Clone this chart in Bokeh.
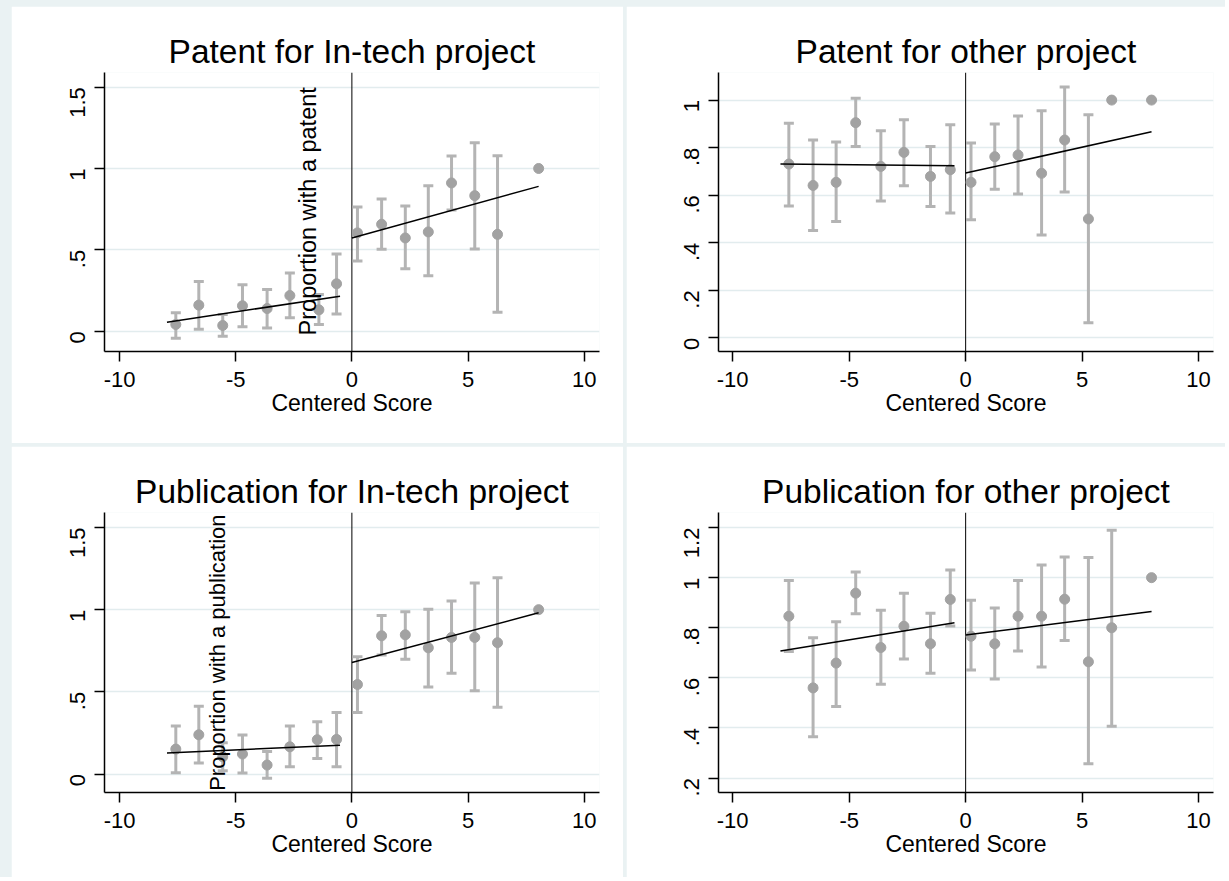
from math import pi
from bokeh.plotting import figure
from bokeh.models import (ColumnDataSource, Whisker, TeeHead, Span, Label,
                          FixedTicker, Spacer, Range1d)
from bokeh.layouts import row, column
from bokeh.embed import file_html
from bokeh.resources import INLINE

# ---------------- data ----------------
x_ticks = [-10, -5, 0, 5, 10]
x_tick_labels = {-10: "-10", -5: "-5", 0: "0", 5: "5", 10: "10"}
x_title = "Centered Score"

# Patent for In-tech project
tl_title = "Patent for In-tech project"
tl_x = [-7.58, -6.59, -5.56, -4.71, -3.65, -2.67, -1.42, -0.66, 0.24, 1.28, 2.30, 3.29, 4.29, 5.29, 6.27, 8.04]
tl_y = [0.041, 0.160, 0.035, 0.156, 0.139, 0.219, 0.131, 0.291, 0.604, 0.657, 0.573, 0.610, 0.911, 0.833, 0.595, 1.0]
tl_hi = [0.113, 0.305, 0.102, 0.286, 0.256, 0.358, 0.225, 0.475, 0.763, 0.812, 0.769, 0.894, 1.076, 1.158, 1.078, None]
tl_lo = [-0.043, 0.012, -0.031, 0.027, 0.020, 0.082, 0.041, 0.106, 0.432, 0.504, 0.383, 0.340, 0.745, 0.505, 0.117, None]
tl_fitL_x = [-7.96, -0.51]
tl_fitL_y = [0.055, 0.215]
tl_fitR_x = [0.0, 8.04]
tl_fitR_y = [0.573, 0.890]
tl_yticks = [0, 0.5, 1, 1.5]
tl_ylabels = {0: "0", 0.5: ".5", 1: "1", 1.5: "1.5"}
tl_ytitle = "Proportion with a patent"

# Patent for other project
tr_title = "Patent for other project"
tr_x = [-7.59, -6.55, -5.56, -4.72, -3.64, -2.65, -1.51, -0.66, 0.23, 1.25, 2.25, 3.26, 4.25, 5.27, 6.27, 7.98]
tr_y = [0.731, 0.641, 0.654, 0.905, 0.721, 0.780, 0.679, 0.707, 0.654, 0.762, 0.769, 0.692, 0.832, 0.500, 1.0, 1.0]
tr_hi = [0.903, 0.832, 0.824, 1.008, 0.871, 0.917, 0.805, 0.896, 0.819, 0.899, 0.933, 0.955, 1.055, 0.938, None, None]
tr_lo = [0.555, 0.451, 0.489, 0.805, 0.576, 0.640, 0.552, 0.525, 0.497, 0.625, 0.605, 0.433, 0.613, 0.063, None, None]
tr_fitL_x = [-7.95, -0.48]
tr_fitL_y = [0.731, 0.724]
tr_fitR_x = [0.0, 7.98]
tr_fitR_y = [0.693, 0.867]
tr_yticks = [0, 0.2, 0.4, 0.6, 0.8, 1]
tr_ylabels = {0: "0", 0.2: ".2", 0.4: ".4", 0.6: ".6", 0.8: ".8", 1: "1"}

# Publication for In-tech project
bl_title = "Publication for In-tech project"
bl_x = [-7.58, -6.59, -5.56, -4.71, -3.65, -2.67, -1.49, -0.66, 0.24, 1.28, 2.30, 3.29, 4.29, 5.29, 6.27, 8.04]
bl_y = [0.152, 0.239, 0.105, 0.122, 0.055, 0.166, 0.209, 0.211, 0.545, 0.841, 0.847, 0.768, 0.831, 0.831, 0.799, 1.0]
bl_hi = [0.292, 0.412, 0.190, 0.237, 0.138, 0.292, 0.318, 0.375, 0.714, 0.965, 0.987, 1.003, 1.052, 1.162, 1.194, None]
bl_lo = [0.008, 0.067, 0.020, 0.006, -0.026, 0.045, 0.095, 0.045, 0.375, 0.724, 0.699, 0.529, 0.614, 0.507, 0.407, None]
bl_fitL_x = [-7.96, -0.51]
bl_fitL_y = [0.128, 0.176]
bl_fitR_x = [0.0, 8.04]
bl_fitR_y = [0.679, 0.981]
bl_yticks = [0, 0.5, 1, 1.5]
bl_ylabels = {0: "0", 0.5: ".5", 1: "1", 1.5: "1.5"}
bl_ytitle = "Proportion with a publication"

# Publication for other project
br_title = "Publication for other project"
br_x = [-7.59, -6.55, -5.56, -4.72, -3.64, -2.65, -1.51, -0.66, 0.23, 1.25, 2.25, 3.26, 4.25, 5.27, 6.27, 7.98]
br_y = [0.846, 0.560, 0.659, 0.938, 0.721, 0.806, 0.736, 0.913, 0.766, 0.736, 0.846, 0.846, 0.914, 0.664, 0.800, 1.0]
br_hi = [0.989, 0.760, 0.824, 1.023, 0.870, 0.938, 0.858, 1.031, 0.910, 0.879, 0.989, 1.050, 1.082, 1.080, 1.189, None]
br_lo = [0.705, 0.365, 0.486, 0.856, 0.575, 0.675, 0.618, 0.807, 0.631, 0.595, 0.707, 0.643, 0.749, 0.257, 0.407, None]
br_fitL_x = [-7.95, -0.48]
br_fitL_y = [0.707, 0.820]
br_fitR_x = [0.0, 7.98]
br_fitR_y = [0.771, 0.865]
br_yticks = [0.2, 0.4, 0.6, 0.8, 1, 1.2]
br_ylabels = {0.2: ".2", 0.4: ".4", 0.6: ".6", 0.8: ".8", 1: "1", 1.2: "1.2"}

# ---------------- style ----------------
FONT = "Liberation Sans"
BG = "#eaf2f3"
GRID = "#e2ecee"
MARK = "#a2a2a2"
CI = "#b4b4b4"


def make_panel(title, xs, ys, his, los, fLx, fLy, fRx, fRy, yticks, ylabels,
               xr, yr, width, height, borders, ytitle=None, ytitle_pos=None,
               ytitle_size="23.5px"):
    bl, br, bt, bb = borders
    p = figure(width=width, height=height, x_range=Range1d(*xr), y_range=Range1d(*yr),
               output_backend="svg", toolbar_location=None,
               min_border_left=bl, min_border_right=br,
               min_border_top=bt, min_border_bottom=bb,
               background_fill_color="white", border_fill_color="white",
               outline_line_color=None, title=title)
    p.title.text_font = FONT
    p.title.text_font_size = "33.5px"
    p.title.text_font_style = "normal"
    p.title.text_color = "black"
    p.title.align = "center"
    p.title.standoff = 5

    p.xgrid.visible = False
    p.ygrid.ticker = FixedTicker(ticks=yticks)
    p.ygrid.grid_line_color = GRID
    p.ygrid.grid_line_width = 1.5

    for ax in (p.xaxis[0], p.yaxis[0]):
        ax.axis_line_color = "black"
        ax.axis_line_width = 1.5
        ax.major_tick_line_color = "black"
        ax.major_tick_line_width = 1.5
        ax.major_tick_out = 10
        ax.major_tick_in = 0
        ax.minor_tick_line_color = None
        ax.major_label_text_font = FONT
        ax.major_label_text_font_size = "22px"
        ax.major_label_text_color = "black"

    p.xaxis.major_label_standoff = 10
    p.xaxis.ticker = FixedTicker(ticks=x_ticks)
    p.xaxis.major_label_overrides = x_tick_labels
    p.xaxis.axis_label = x_title
    p.xaxis.axis_label_text_font = FONT
    p.xaxis.axis_label_text_font_size = "23px"
    p.xaxis.axis_label_text_font_style = "normal"
    p.xaxis.axis_label_text_color = "black"
    p.xaxis.axis_label_standoff = 0

    p.yaxis.major_label_standoff = 17
    p.yaxis.ticker = FixedTicker(ticks=yticks)
    p.yaxis.major_label_overrides = ylabels
    p.yaxis.major_label_orientation = pi / 2

    p.add_layout(Span(location=0, dimension="height", line_color="black",
                      line_width=1, level="underlay"))

    wx = [x for x, h in zip(xs, his) if h is not None]
    wh = [h for h in his if h is not None]
    wl = [l for l in los if l is not None]
    src = ColumnDataSource(dict(x=wx, hi=wh, lo=wl))
    p.add_layout(Whisker(source=src, base="x", upper="hi", lower="lo",
                         line_color=CI, line_width=3, level="underlay",
                         upper_head=TeeHead(size=10, line_color=CI, line_width=3),
                         lower_head=TeeHead(size=10, line_color=CI, line_width=3)))

    p.scatter(xs, ys, size=10, fill_color=MARK, line_color=MARK)
    p.line(fLx, fLy, line_color="black", line_width=1.5)
    p.line(fRx, fRy, line_color="black", line_width=1.5)

    if ytitle:
        p.add_layout(Label(x=ytitle_pos[0], y=ytitle_pos[1], text=ytitle, angle=pi / 2,
                           text_align="left", text_baseline="middle", level="overlay",
                           text_font=FONT, text_font_size=ytitle_size, text_color="black"))
    return p


p1 = make_panel(tl_title, tl_x, tl_y, tl_hi, tl_lo, tl_fitL_x, tl_fitL_y, tl_fitR_x, tl_fitR_y,
                tl_yticks, tl_ylabels, (-10.65, 10.66), (-0.125, 1.59), 612, 437,
                (93, 24, 66, 92), tl_ytitle, (-1.91, -0.026))
p2 = make_panel(tr_title, tr_x, tr_y, tr_hi, tr_lo, tr_fitL_x, tr_fitL_y, tr_fitR_x, tr_fitR_y,
                tr_yticks, tr_ylabels, (-10.61, 10.64), (-0.0575, 1.116), 599, 437,
                (92, 12, 66, 92))
p3 = make_panel(bl_title, bl_x, bl_y, bl_hi, bl_lo, bl_fitL_x, bl_fitL_y, bl_fitR_x, bl_fitR_y,
                bl_yticks, bl_ylabels, (-10.65, 10.66), (-0.112, 1.591), 612, 431,
                (93, 24, 66, 85), bl_ytitle, (-5.79, -0.102), "22px")
p4 = make_panel(br_title, br_x, br_y, br_hi, br_lo, br_fitL_x, br_fitL_y, br_fitR_x, br_fitR_y,
                br_yticks, br_ylabels, (-10.61, 10.64), (0.1425, 1.26), 599, 431,
                (92, 12, 66, 85))

top = row(Spacer(width=11, height=437), p1, Spacer(width=3, height=437), p2)
bottom = row(Spacer(width=11, height=431), p3, Spacer(width=3, height=431), p4)
layout = column(Spacer(width=1225, height=6), top, Spacer(width=1225, height=3), bottom,
                styles={"background-color": BG})

open("out.html", "w").write(file_html(layout, INLINE))
